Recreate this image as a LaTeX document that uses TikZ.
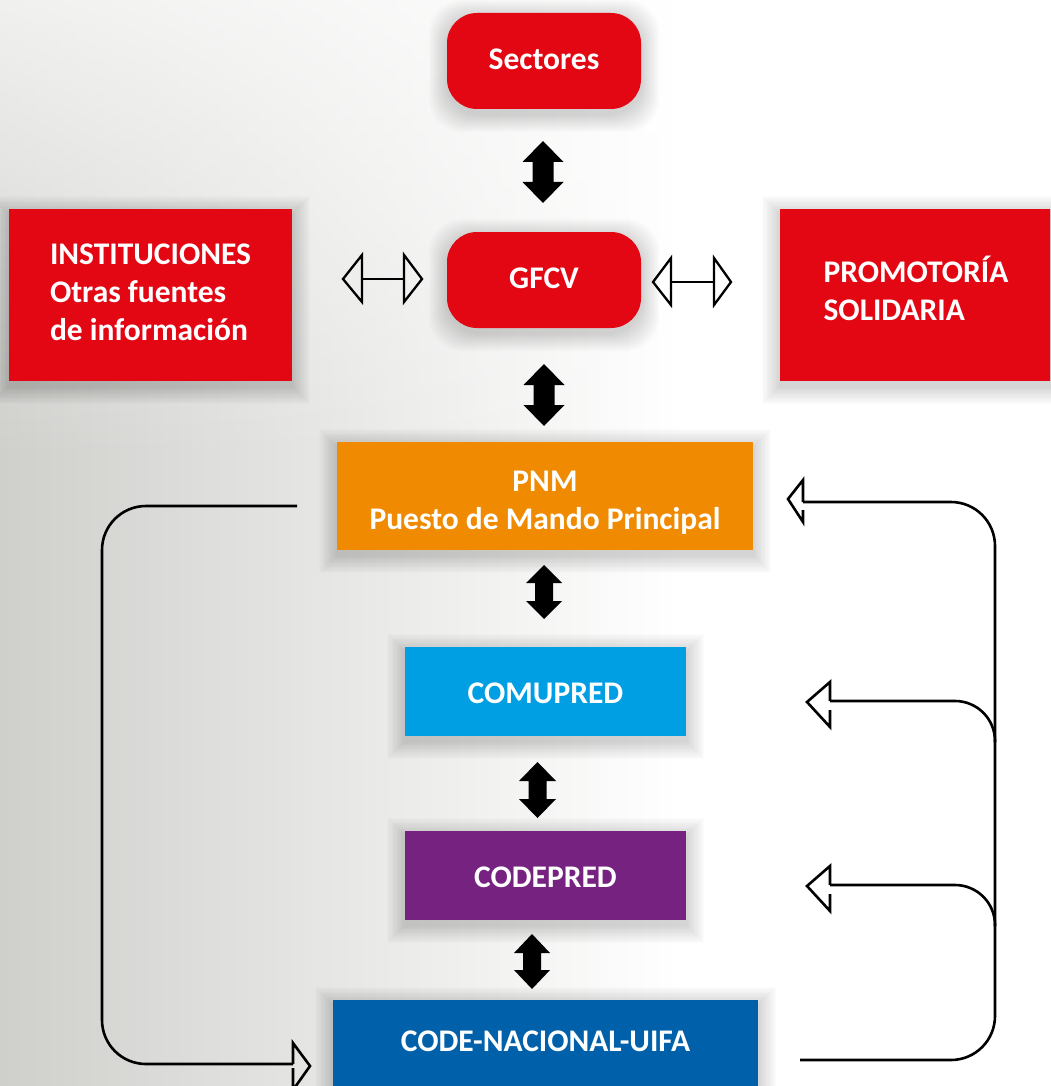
\documentclass[tikz,border=0pt]{standalone}
\usepackage{fontspec}
\setmainfont{Carlito}
\usetikzlibrary{fadings,calc,backgrounds}
\pgfdeclarelayer{bg}
\pgfsetlayers{bg,background,main}
\definecolor{cred}{HTML}{E30613}
\definecolor{corange}{HTML}{F08A00}
\definecolor{clblue}{HTML}{009FE3}
\definecolor{cpurple}{HTML}{762281}
\definecolor{cdblue}{HTML}{0060A9}
\definecolor{bgg}{HTML}{CFD0CC}
\newcommand{\vdarr}[6]{%
  \fill[black] (#1,#2) -- ({#1+#4},{#2+#6}) -- ({#1+#5},{#2+#6}) -- ({#1+#5},{#3-#6}) -- ({#1+#4},{#3-#6}) -- (#1,#3)
   -- ({#1-#4},{#3-#6}) -- ({#1-#5},{#3-#6}) -- ({#1-#5},{#2+#6}) -- ({#1-#4},{#2+#6}) -- cycle;}
\newcommand{\hdarr}[5]{% x-left-tip, x-left-back, x-right-back, x-right-tip, y
  \draw[harrow] (#2,#5) -- (#2,{#5-24}) -- (#1,#5) -- (#2,{#5+23}) -- cycle;
  \draw[harrow] (#2,#5) -- (#3,#5);
  \draw[harrow] (#3,#5) -- (#3,{#5-24}) -- (#4,#5) -- (#3,{#5+23}) -- cycle;}
\newcommand{\softshadow}[2]{%
  \foreach \i in {1,...,14}{%
    \fill[black,opacity=0.011,rounded corners=#2]
      ($(#1.north west)+({-1.3*\i},{-1.3*\i+5})$) rectangle ($(#1.south east)+({1.3*\i},{1.3*\i+5})$);}}
\newcommand{\tx}[3]{\raisebox{#1}[0pt][0pt]{\begin{tabular}{@{}#2@{}}#3\end{tabular}}}
\begin{document}
\begin{tikzpicture}[x=1pt,y=-1pt,
  box/.style={draw=none,text=white,font=\bfseries\fontsize{31.5}{38}\selectfont,align=center,inner sep=0pt},
  conn/.style={draw=black,line width=2.6pt,rounded corners=44pt},
  headl/.style={draw=black,line width=2.6pt,line join=miter},
  harrow/.style={draw=black,line width=2.3pt,line join=miter}]
\useasboundingbox (0,0) rectangle (1050,1086);
\clip (0,0) rectangle (1050,1086);
% background
\begin{pgfonlayer}{bg}
\fill[white] (0,0) rectangle (1050,1086);
\shade[left color=bgg,right color=white] (0,0) rectangle (680,1086);
\fill[white,path fading=south,opacity=0.7] (0,0) rectangle (680,460);
\end{pgfonlayer}
% nodes
\node[box,fill=cred,rounded corners=30pt,minimum width=194pt,minimum height=96pt] (sect) at (544,61) {\tx{-7.5pt}{c}{Sectores}};
\node[box,fill=cred,rounded corners=30pt,minimum width=194pt,minimum height=96pt] (gfcv) at (544,280) {\tx{-7pt}{c}{GFCV}};
\node[box,fill=cred,minimum width=283pt,minimum height=172pt] (inst) at (150.5,295) {\tx{-6.5pt}{l}{INSTITUCIONES\\Otras fuentes\\de información}};
\node[box,fill=cred,minimum width=272pt,minimum height=172pt] (promo) at (916,295) {\tx{-5pt}{l}{PROMOTORÍA\\SOLIDARIA}};
\node[box,fill=corange,minimum width=416pt,minimum height=108pt] (pnm) at (545,496) {\tx{-13pt}{c}{PNM\\Puesto de Mando Principal}};
\node[box,fill=clblue,minimum width=281pt,minimum height=89pt] (comu) at (545.5,691.5) {\tx{-10.5pt}{c}{COMUPRED}};
\node[box,fill=cpurple,minimum width=281pt,minimum height=89pt] (code) at (545.5,875.5) {\tx{-11pt}{c}{CODEPRED}};
\node[box,fill=cdblue,minimum width=425pt,minimum height=86pt] (nac) at (545.5,1043) {\tx{-7.5pt}{c}{CODE-NACIONAL-UIFA}};
% shadows
\begin{pgfonlayer}{background}
\softshadow{sect}{34pt}
\softshadow{gfcv}{34pt}
\softshadow{inst}{0pt}
\softshadow{promo}{0pt}
\softshadow{pnm}{0pt}
\softshadow{comu}{0pt}
\softshadow{code}{0pt}
\softshadow{nac}{0pt}
\end{pgfonlayer}
% vertical solid double arrows
\vdarr{543}{141}{203}{20.5}{10.5}{21}
\vdarr{544}{364}{426}{20.5}{10.5}{21}
\vdarr{544}{565}{619}{18}{9}{18}
\vdarr{537.5}{762}{818}{18.5}{9}{19}
\vdarr{532}{934}{989}{18}{9}{19}
% horizontal outlined double arrows
\hdarr{343}{362}{404}{422}{279}
\hdarr{653}{671}{714}{731}{282}
% left loop
\coordinate (ls) at (297,506);
\coordinate (le) at (293,1064);
\draw[conn] (ls) -- (102,506) -- (102,1064) -- (le);
\draw[headl] (le) -- (293,1043) -- (310,1066) -- (293,1090) -- (293,1068);
% right loop
\coordinate (rs) at (800,1060);
\coordinate (re) at (803,502);
\draw[conn] (rs) -- (995,1060) -- (995,502) -- (re);
\draw[headl] (re) -- (803,480) -- (788,499) -- (803,522) -- (803,510);
% branch to COMUPRED
\coordinate (b1) at (995,742);
\coordinate (h1) at (830,701);
\draw[conn,rounded corners=40pt] (b1) -- (995,701) -- (h1);
\draw[headl] (h1) -- (830,682) -- (807,702) -- (830,727) -- (830,710);
% branch to CODEPRED
\coordinate (b2) at (995,926);
\coordinate (h2) at (830,885);
\draw[conn,rounded corners=40pt] (b2) -- (995,885) -- (h2);
\draw[headl] (h2) -- (830,866) -- (807,886) -- (830,911) -- (830,894);
\end{tikzpicture}
\end{document}
